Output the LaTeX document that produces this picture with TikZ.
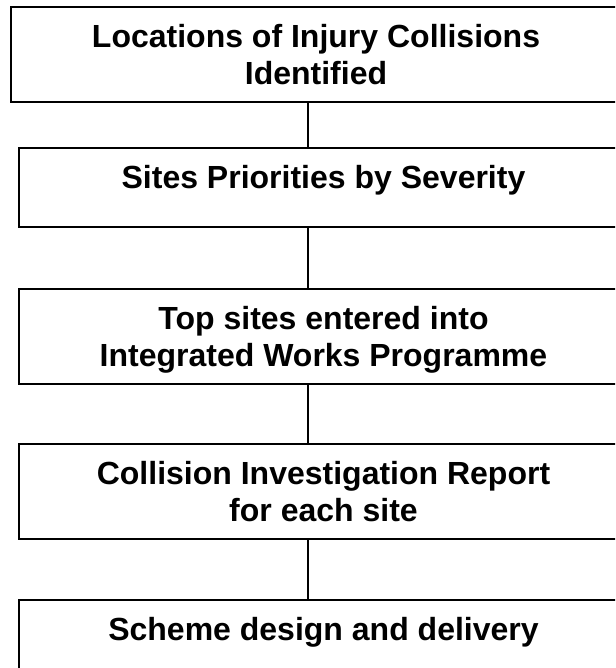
\documentclass[tikz,border=0pt]{standalone}
\usepackage{fontspec}
\setmainfont{Liberation Sans}
\tikzset{
  stepbox/.style = {draw, line width=1.8pt, inner sep=0pt, minimum width=609pt,
    align=center, anchor=north,
    font=\bfseries\fontsize{32}{37}\selectfont},
  tallbox/.style = {stepbox, text height=78pt, text depth=17pt},
  shortbox/.style = {stepbox, text height=41pt, text depth=38pt},
  link/.style = {line width=1.2pt}
}
\begin{document}
\begin{tikzpicture}[x=1pt, y=1pt]
  \useasboundingbox (0,0) rectangle (615,668);
  \clip (0,0) rectangle (615,668);

  % Les boîtes
  \node[tallbox, minimum width=610pt] (locations) at (316,662)
    {Locations of Injury Collisions\\Identified};
  \node[shortbox] (priorities) at (323.5,521) {Sites Priorities by Severity};
  \node[tallbox] (programme) at (323.5,380)
    {Top sites entered into\\Integrated Works Programme};
  \node[tallbox] (report) at (323.5,225)
    {Collision Investigation Report\\for each site};
  \node[shortbox] (scheme) at (323.5,69) {Scheme design and delivery};

  % Les liaisons
  \coordinate (spine) at (308,0);
  \draw[link] (locations.south -| spine) -- (priorities.north -| spine);
  \draw[link] (priorities.south -| spine) -- (programme.north -| spine);
  \draw[link] (programme.south -| spine) -- (report.north -| spine);
  \draw[link] (report.south -| spine) -- (scheme.north -| spine);
\end{tikzpicture}
\end{document}
